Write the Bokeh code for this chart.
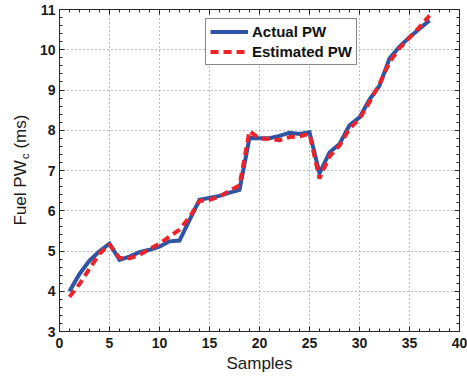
import math
from bokeh.plotting import figure
from bokeh.layouts import row
from bokeh.models import (Label, LinearAxis, SingleIntervalTicker, Legend, LegendItem,
                          CustomJSTickFormatter, Range1d, Grid)
from bokeh.embed import file_html
from bokeh.resources import INLINE

samples = list(range(1, 38))
actual_pw = [4.00, 4.43, 4.76, 4.99, 5.18, 4.78, 4.86, 4.97, 5.03, 5.11,
             5.24, 5.26, 5.77, 6.27, 6.32, 6.37, 6.45, 6.52, 7.81, 7.80,
             7.80, 7.86, 7.94, 7.91, 7.95, 6.93, 7.45, 7.66, 8.12, 8.32,
             8.76, 9.11, 9.78, 10.08, 10.31, 10.52, 10.73]
estimated_pw = [3.86, 4.18, 4.56, 4.93, 5.16, 4.83, 4.82, 4.90, 5.05, 5.18,
                5.36, 5.53, 5.84, 6.24, 6.27, 6.35, 6.50, 6.63, 7.98, 7.79,
                7.79, 7.75, 7.83, 7.85, 7.91, 6.80, 7.35, 7.62, 8.04, 8.28,
                8.70, 9.15, 9.69, 10.04, 10.30, 10.56, 10.85]
legend_labels = ["Actual PW", "Estimated PW"]
x_label = "Samples"
y_label_parts = ["Fuel PW", "c", "(ms)"]

BLUE = "#2E54A4"
RED = "#EE2229"
AX = "#262626"
TXT = "#1a1a1a"
FONT = "Liberation Sans"

W, H = 467, 377
SIDE = 30
TOP, BOTTOM = 9, 46

p = figure(width=W - SIDE, height=H, output_backend="svg", toolbar_location=None,
           x_range=Range1d(0, 40), y_range=Range1d(3, 11),
           min_border_left=59 - SIDE, min_border_right=8, min_border_top=TOP, min_border_bottom=BOTTOM,
           x_axis_type=None, y_axis_type=None)
p.background_fill_color = "white"
p.border_fill_color = "white"
p.outline_line_color = AX
p.outline_line_width = 1

xt = SingleIntervalTicker(interval=5, num_minor_ticks=5)
yt = SingleIntervalTicker(interval=1, num_minor_ticks=5)

def style(ax, show_labels):
    ax.axis_line_color = AX
    ax.major_tick_line_color = AX
    ax.minor_tick_line_color = AX
    ax.major_tick_in = 5
    ax.major_tick_out = 0
    ax.minor_tick_in = 3
    ax.minor_tick_out = 0
    if show_labels:
        ax.major_label_text_font = FONT
        ax.major_label_text_font_style = "bold"
        ax.major_label_text_font_size = "14px"
        ax.major_label_text_color = TXT
        ax.major_label_standoff = 4
    else:
        ax.major_label_text_font_size = "0px"
        ax.major_label_standoff = 0
        ax.formatter = CustomJSTickFormatter(code="return ''")

p.add_layout(Grid(dimension=0, ticker=xt, grid_line_color="#7a7a7a",
                  grid_line_dash="1 3", grid_line_width=1))
p.add_layout(Grid(dimension=1, ticker=yt, grid_line_color="#7a7a7a",
                  grid_line_dash="1 3", grid_line_width=1))

xb = LinearAxis(ticker=xt)
style(xb, True)
xb.major_label_standoff = 6
xb.axis_label = x_label
xb.axis_label_text_font = FONT
xb.axis_label_text_font_style = "normal"
xb.axis_label_text_font_size = "17px"
xb.axis_label_text_color = TXT
xb.axis_label_standoff = 3
p.add_layout(xb, "below")

yl = LinearAxis(ticker=yt)
style(yl, True)
p.add_layout(yl, "left")

xa = LinearAxis(ticker=xt)
style(xa, False)
p.add_layout(xa, "above")
yr = LinearAxis(ticker=yt)
style(yr, False)
p.add_layout(yr, "right")

r1 = p.line(samples, actual_pw, line_color=BLUE, line_width=4, line_join="miter")
r2 = p.line(samples, estimated_pw, line_color=RED, line_width=4, line_dash="8 5")

legend = Legend(items=[LegendItem(label=legend_labels[0], renderers=[r1]),
                       LegendItem(label=legend_labels[1], renderers=[r2])],
                location=(146, 266))
legend.label_text_font = FONT
legend.label_text_font_style = "bold"
legend.label_text_font_size = "15px"
legend.label_text_color = "#111111"
legend.border_line_color = "#111111"
legend.border_line_width = 1.5
legend.padding = 4
legend.spacing = 3
legend.label_height = 15
legend.glyph_height = 15
legend.glyph_width = 38
legend.label_standoff = 4
legend.margin = 0
legend.background_fill_alpha = 1
p.add_layout(legend, "center")

# side figure carrying the rotated y label with a subscript;
# its frame spans the same vertical pixels as the main frame, data y = canvas row from bottom
side = figure(width=SIDE, height=H, output_backend="svg", toolbar_location=None,
              x_range=Range1d(0, SIDE), y_range=Range1d(BOTTOM, H - TOP),
              min_border_left=0, min_border_right=0,
              min_border_top=TOP, min_border_bottom=BOTTOM,
              x_axis_type=None, y_axis_type=None)
side.outline_line_color = None
side.background_fill_color = "white"
side.border_fill_color = "white"

fs_main = 17
fs_sub = 11.5
w_main = 3.834 * fs_main
w_sub = 0.5 * fs_sub
start = H - 225
side.add_layout(Label(x=20, y=start, text=y_label_parts[0], angle=math.pi / 2,
                      text_font=FONT, text_font_size=f"{fs_main}px", text_color=TXT,
                      text_align="left", text_baseline="alphabetic"))
side.add_layout(Label(x=24, y=start + w_main + 1, text=y_label_parts[1], angle=math.pi / 2,
                      text_font=FONT, text_font_size=f"{fs_sub}px", text_color=TXT,
                      text_align="left", text_baseline="alphabetic"))
side.add_layout(Label(x=20, y=start + w_main + w_sub + 6, text=y_label_parts[2], angle=math.pi / 2,
                      text_font=FONT, text_font_size=f"{fs_main}px", text_color=TXT,
                      text_align="left", text_baseline="alphabetic"))

layout = row(side, p, spacing=0)
open("out.html", "w").write(file_html(layout, INLINE))
